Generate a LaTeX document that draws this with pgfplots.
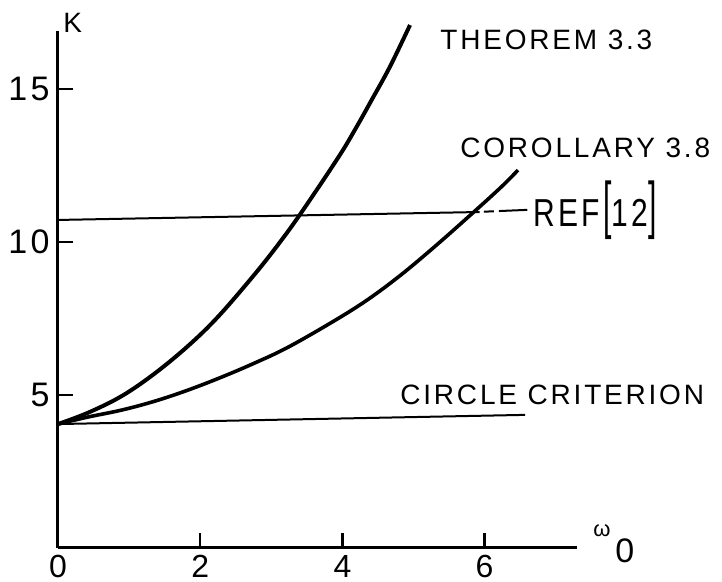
\documentclass[border=0pt]{standalone}
\usepackage{pgfplots}
\pgfplotsset{compat=1.18}
\usepackage{fontspec}
\setmainfont{Liberation Sans}
\newfontfamily\lettering[LetterSpace=10]{Liberation Sans}

% Stability bounds K versus omega_0
\begin{document}
\begin{tikzpicture}
\useasboundingbox (-29pt,-17pt) rectangle (332pt,274pt);
\begin{axis}[
  at={(0,0)}, anchor=origin,
  x=35.55pt, y=15.3pt,
  xmin=0, xmax=7.3, ymin=0, ymax=16.9,
  axis x line*=bottom, axis y line*=left,
  axis line style={-, line width=1.5pt},
  xtick={0,2,4,6}, ytick={5,10,15},
  xtick pos=left, ytick pos=left,
  tick align=inside, major tick length=7.5pt,
  every tick/.style={line width=1.2pt, black},
  /pgf/number format/assume math mode=true,
  yticklabel style={font=\lettering\fontsize{17}{17}\selectfont, inner sep=0pt, xshift=-4pt},
  xticklabel style={font=\lettering\fontsize{16}{16}\selectfont, inner sep=0pt, yshift=-3.5pt},
  clip=false,
]
% Theorem 3.3
\addplot[line width=2pt, smooth, tension=0.6] coordinates {
  (0,4.05) (0.422,4.42) (0.900,4.97) (1.364,5.71) (1.828,6.60)
  (2.236,7.52) (2.700,8.76) (3.052,9.78) (3.404,10.90) (3.938,12.75)
  (4.177,13.67) (4.416,14.66) (4.669,15.73) (4.951,17.09)};
% Corollary 3.8
\addplot[line width=1.8pt, smooth, tension=0.6] coordinates {
  (0,4.05) (0.422,4.28) (0.900,4.51) (1.364,4.80) (1.828,5.16)
  (2.307,5.59) (2.771,6.05) (3.235,6.56) (3.868,7.40) (4.346,8.10)
  (4.810,8.90) (5.274,9.80) (5.752,10.78) (6.217,11.76) (6.470,12.35)};
% Ref [12]
\addplot[line width=1pt] coordinates {(0,10.72) (5.93,10.98)};
\addplot[line width=1pt, dash pattern=on 5pt off 2.5pt on 15pt off 0pt] coordinates {(5.99,10.99) (6.60,11.05)};
% Circle criterion
\addplot[line width=1pt] coordinates {(0,4.05) (6.57,4.35)};
\end{axis}
\lettering
\node[anchor=base west, inner sep=0] at (2.5pt,257.5pt) {\fontsize{14}{14}\selectfont K};
\node[anchor=base west, inner sep=0] at (191pt,249pt) {\fontsize{14}{14}\selectfont THEOREM 3.3};
\node[anchor=base west, inner sep=0] at (201pt,195pt) {\fontsize{14}{14}\selectfont COROLLARY 3.8};
\node[anchor=base west, inner sep=0] at (237.5pt,160.5pt) {\fontsize{15}{15}\selectfont
  \scalebox{1}[1.3]{REF}\hspace{2pt}\scalebox{1}[2.1]{[}\scalebox{1}[1.3]{12}\scalebox{1}[2.1]{]}};
\node[anchor=base west, inner sep=0] at (171pt,71.5pt) {\fontsize{14}{14}\selectfont CIRCLE CRITERION};
\node[anchor=base west, inner sep=0] at (267.5pt,5.5pt) {\fontsize{11}{11}\selectfont ω};
\node[anchor=base west, inner sep=0] at (278.5pt,-7.5pt) {\fontsize{17}{17}\selectfont 0};
\end{tikzpicture}
\end{document}
